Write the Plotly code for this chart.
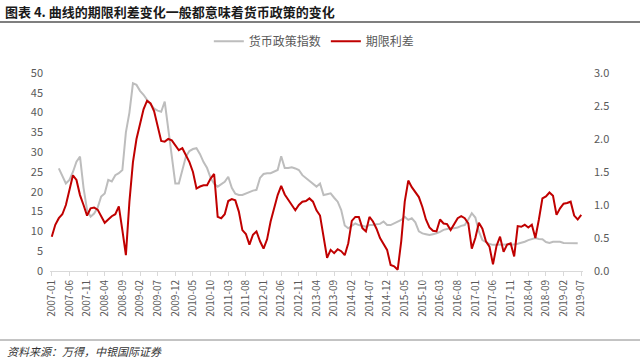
import pandas as pd
import plotly.graph_objects as go

months = [d.strftime("%Y-%m") for d in pd.date_range("2007-01-01", "2019-07-01", freq="MS")]

policy_index = [None, None,
    25.9, 24.0, 22.1, 23.0, 25.0, 27.6, 28.9, 21.0, 15.4, 13.7,
    14.5, 16.0, 18.8, 19.6, 23.0, 22.6, 24.2, 24.7, 25.5, 35.0,
    40.0, 47.4, 47.0, 45.5, 44.5, 43.2, 42.0, 41.0, 40.5, 40.2,
    42.8, 36.0, 29.7, 22.1, 22.1, 25.5, 28.9, 30.3, 30.8, 31.0,
    29.5, 27.5, 26.0, 23.5, 22.0, 21.3, 22.0, 22.5, 23.8, 21.0,
    19.5, 19.2, 19.2, 19.6, 20.0, 20.3, 20.5, 23.5, 24.5, 24.7,
    24.7, 25.0, 25.5, 29.0, 26.0, 26.0, 26.2, 25.9, 25.5, 24.2,
    23.5, 22.6, 22.0, 21.3, 22.1, 19.2, 19.4, 19.6, 18.5, 17.5,
    15.4, 11.5, 10.8, 11.5, 12.0, 11.6, 11.4, 11.2, 11.6, 11.6,
    11.8, 11.9, 12.5, 11.6, 11.6, 12.0, 12.4, 12.9, 13.7, 12.9,
    13.3, 12.3, 10.0, 9.5, 9.3, 9.1, 9.3, 9.5, 9.9, 10.4,
    10.6, 10.8, 10.8, 11.0, 11.4, 11.6, 13.0, 14.6, 13.5, 10.0,
    7.8, 7.2, 6.8, 6.6, 6.6, 6.6, 6.6, 6.6, 6.6, 6.7,
    6.9, 7.1, 7.4, 7.8, 8.0, 8.3, 8.1, 8.0, 7.3, 7.1,
    7.4, 7.4, 7.4, 7.1, 7.1, 7.0, 7.0, 7.0, None]

term_spread = [
    0.52, 0.70, 0.80, 0.86, 1.00, 1.25, 1.45, 1.38, 1.15, 1.00,
    0.84, 0.95, 0.96, 0.93, 0.84, 0.73, 0.78, 0.83, 0.86, 0.98,
    0.62, 0.24, 1.05, 1.65, 2.00, 2.25, 2.45, 2.58, 2.54, 2.42,
    2.20, 1.97, 1.96, 2.00, 1.98, 1.90, 1.83, 1.86, 1.75, 1.65,
    1.50, 1.25, 1.28, 1.30, 1.30, 1.40, 1.47, 0.82, 0.80, 0.86,
    1.06, 1.09, 1.07, 0.90, 0.62, 0.56, 0.40, 0.55, 0.60, 0.45,
    0.34, 0.48, 0.75, 0.95, 1.15, 1.29, 1.16, 1.08, 1.00, 0.92,
    1.00, 1.05, 1.06, 1.10, 1.05, 0.92, 0.84, 0.55, 0.20, 0.32,
    0.27, 0.33, 0.30, 0.24, 0.42, 0.76, 0.82, 0.82, 0.65, 0.60,
    0.82, 0.75, 0.64, 0.50, 0.40, 0.32, 0.09, 0.07, 0.02, 0.45,
    1.05, 1.37, 1.27, 1.20, 1.12, 0.97, 0.78, 0.66, 0.61, 0.60,
    0.78, 0.72, 0.71, 0.62, 0.72, 0.80, 0.83, 0.80, 0.72, 0.34,
    0.50, 0.73, 0.64, 0.45, 0.37, 0.10, 0.38, 0.52, 0.29, 0.40,
    0.42, 0.22, 0.68, 0.67, 0.70, 0.66, 0.70, 0.50, 0.78, 1.10,
    1.13, 1.19, 1.14, 0.85, 0.95, 1.02, 1.03, 1.05, 0.84, 0.78,
    0.85]

x_tick_labels = months[::5]
left_ticks = [0, 5, 10, 15, 20, 25, 30, 35, 40, 45, 50]
right_ticks = [0.0, 0.5, 1.0, 1.5, 2.0, 2.5, 3.0]

title_text = "图表 4. 曲线的期限利差变化一般都意味着货币政策的变化"
source_text = "资料来源：万得，中银国际证券"

FONT = "Noto Sans CJK SC"
TICK_COLOR = "#595959"

fig = go.Figure()
fig.add_trace(go.Scatter(
    x=months, y=policy_index, name="货币政策指数", mode="lines",
    line=dict(color="#BDBDBD", width=2), connectgaps=False, yaxis="y"))
fig.add_trace(go.Scatter(
    x=months, y=term_spread, name="期限利差", mode="lines",
    line=dict(color="#C00000", width=2), yaxis="y2"))

fig.update_layout(
    width=640, height=361,
    margin=dict(l=50, r=57, t=73, b=90),
    paper_bgcolor="white", plot_bgcolor="white",
    font=dict(family=FONT, size=11, color=TICK_COLOR),
    showlegend=True,
    legend=dict(orientation="h", x=0.298, y=1.16, xanchor="left", yanchor="middle",
                font=dict(size=12, color=TICK_COLOR), bgcolor="rgba(0,0,0,0)",
                itemwidth=30, tracegroupgap=0),
    xaxis=dict(type="category", categoryorder="array", categoryarray=months,
               range=[-0.5, len(months) - 0.5],
               tickmode="array", tickvals=x_tick_labels, ticktext=x_tick_labels,
               tickangle=-90, tickfont=dict(size=10, color=TICK_COLOR),
               showline=True, linecolor="#D9D9D9", linewidth=1,
               ticks="outside", ticklen=4, tickcolor="#D9D9D9",
               showgrid=False, zeroline=False),
    yaxis=dict(range=[0, 50], tickmode="array", tickvals=left_ticks,
               tickfont=dict(size=11, color=TICK_COLOR), showgrid=False,
               zeroline=False, showline=False, ticklabelstandoff=6),
    yaxis2=dict(range=[0, 3], overlaying="y", side="right", tickmode="array",
                tickvals=right_ticks, ticktext=[f"{v:.1f}" for v in right_ticks],
                tickfont=dict(size=11, color=TICK_COLOR), showgrid=False,
                zeroline=False, showline=False, ticklabelstandoff=10),
)

fig.add_annotation(text=f"<b>{title_text}</b>", xref="paper", yref="paper",
                   x=-47 / 533, y=1 + (73 - 11) / 198, xanchor="left", yanchor="middle",
                   showarrow=False, font=dict(family=FONT, size=13, color="#1a1a1a"))
fig.add_shape(type="line", xref="paper", yref="paper",
              x0=-50 / 533, x1=(640 - 50) / 533,
              y0=1 + (73 - 22) / 198, y1=1 + (73 - 22) / 198,
              line=dict(color="#555555", width=1.5))
fig.add_shape(type="line", xref="paper", yref="paper",
              x0=-50 / 533, x1=(640 - 50) / 533,
              y0=-(340 - 271) / 198, y1=-(340 - 271) / 198,
              line=dict(color="#888888", width=1))
fig.add_annotation(text=f"<i>{source_text}</i>", xref="paper", yref="paper",
                   x=-45 / 533, y=-(351 - 271) / 198, xanchor="left", yanchor="middle",
                   showarrow=False, font=dict(family=FONT, size=11, color="#333333"))

fig.write_html("out.html", config={"displayModeBar": False},
               post_script="document.body.style.margin='0';document.body.style.overflow='hidden';")
